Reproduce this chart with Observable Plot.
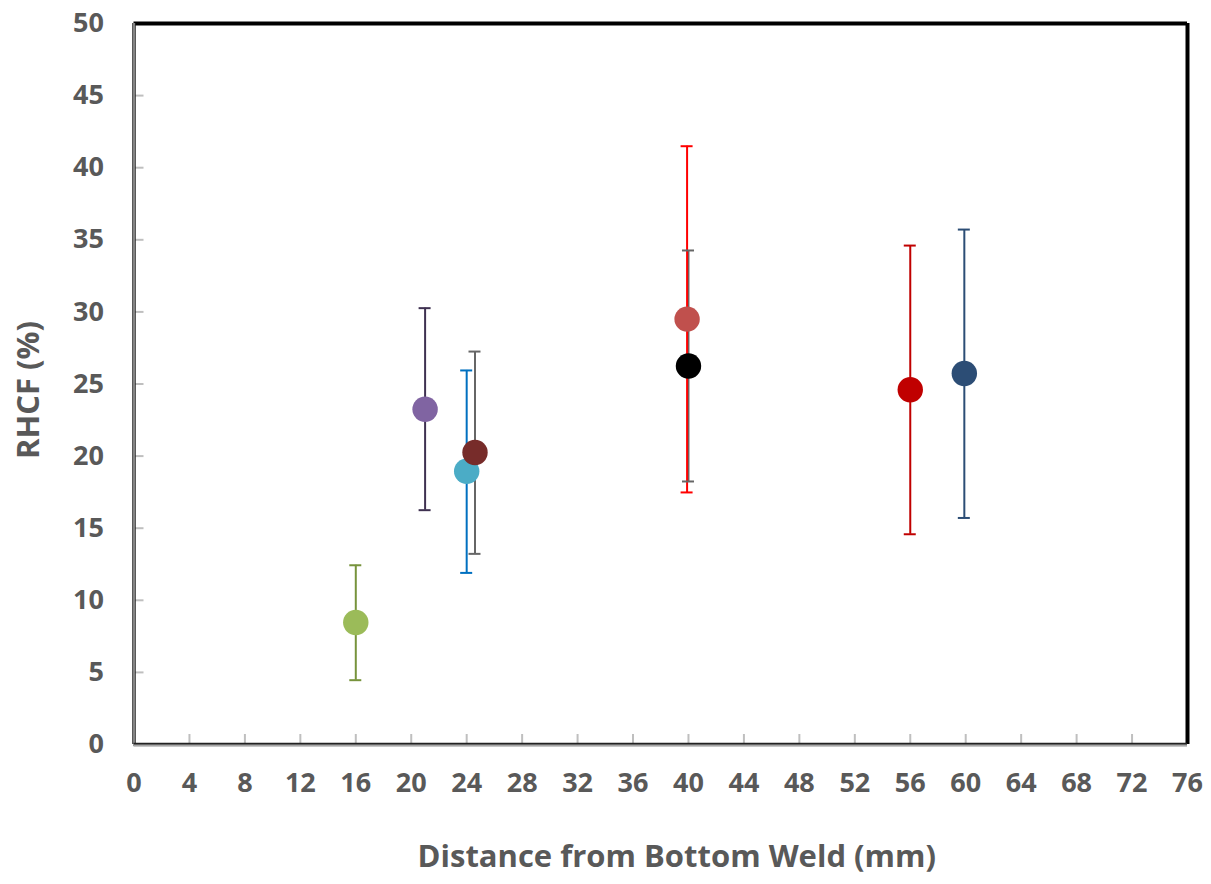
<!DOCTYPE html>
<html>
<head>
<meta charset="utf-8">
<script src="https://cdn.jsdelivr.net/npm/d3@7"></script>
<script src="https://cdn.jsdelivr.net/npm/@observablehq/plot@0.6"></script>
<style>
  html, body { margin: 0; padding: 0; background: #fff; }
</style>
</head>
<body>
<div id="chart"></div>
<script>
// Data
const names = ["A", "B", "C", "D", "E", "F", "G", "H"];
const xs = [16, 21, 24, 24.6, 39.9, 40, 56, 59.9];
const ys = [8.46, 23.25, 18.95, 20.25, 29.5, 26.25, 24.6, 25.73];
const lows = [4.46, 16.25, 11.9, 13.22, 17.48, 18.24, 14.58, 15.71];
const highs = [12.43, 30.26, 25.94, 27.25, 41.49, 34.26, 34.6, 35.71];
const pointColors = ["#9BBB59", "#8064A2", "#4BACC6", "#772C2A", "#C0504D", "#000000", "#C00000", "#2C4D75"];
const barColors = ["#77933C", "#3F3151", "#0070C0", "#666666", "#FF0000", "#666666", "#C00000", "#2C4D75"];
const xTicks = d3.range(0, 77, 4);
const yTicks = d3.range(0, 51, 5);
const xLabel = "Distance from Bottom Weld (mm)";
const yLabel = "RHCF (%)";

const data = names.map((n, i) => ({
  name: n, x: xs[i], y: ys[i], lo: lows[i], hi: highs[i],
  pc: pointColors[i], bc: barColors[i]
}));

// draw order: bar of E drawn after F bar so the red stays on top
const barOrder = [0, 1, 2, 3, 5, 4, 6, 7].map(i => data[i]);

const chart = Plot.plot({
  width: 1211,
  height: 884,
  marginLeft: 133.5,
  marginRight: 24,
  marginTop: 23,
  marginBottom: 140,
  style: { fontFamily: "'Open Sans', sans-serif", fontWeight: "bold", color: "#595959", background: "#fff" },
  x: { domain: [0, 76], ticks: xTicks },
  y: { domain: [0, 50], ticks: yTicks },
  marks: [
    // inward tick marks
    Plot.ruleX(xTicks.slice(1, -1), { x: d => d, y1: 0, y2: 0, insetTop: -10, stroke: "#BFBFBF", strokeWidth: 2 }),
    Plot.ruleY(yTicks.slice(1, -1), { y: d => d, x1: 0, x2: 0, insetRight: -10, stroke: "#BFBFBF", strokeWidth: 2 }),
    // frame: top and right black, left and bottom grey/black
    Plot.ruleY([50], { stroke: "#000", strokeWidth: 4 }),
    Plot.ruleX([76], { stroke: "#000", strokeWidth: 4 }),
    Plot.ruleX([0], { stroke: "#222", strokeWidth: 3.5 }),
    Plot.ruleX([0], { stroke: "#A6A6A6", strokeWidth: 1.5 }),
    Plot.ruleY([0], { stroke: "#222", strokeWidth: 3.5 }),
    Plot.ruleY([0], { stroke: "#A6A6A6", strokeWidth: 1.5, dy: 0.8 }),
    // axes labels
    Plot.axisX(xTicks, { tickSize: 0, tickPadding: 28, fontSize: 27, fontWeight: "bold", label: null }),
    Plot.axisY(yTicks, { tickSize: 0, tickPadding: 30, fontSize: 27, fontWeight: "bold", label: null }),
    Plot.text([xLabel], { frameAnchor: "bottom", textAnchor: "middle", dx: 16, dy: 122, fontSize: 31, fontWeight: "bold", fill: "#595959" }),
    Plot.text([yLabel], { frameAnchor: "left", textAnchor: "middle", rotate: -90, dx: -105, dy: 6, fontSize: 31, fontWeight: "bold", fill: "#595959" }),
    // error bars
    Plot.ruleX(barOrder, { x: "x", y1: "lo", y2: "hi", stroke: "bc", strokeWidth: 2 }),
    Plot.ruleY(barOrder, { y: "hi", x1: "x", x2: "x", insetLeft: -6, insetRight: -6, stroke: "bc", strokeWidth: 2 }),
    Plot.ruleY(barOrder, { y: "lo", x1: "x", x2: "x", insetLeft: -6, insetRight: -6, stroke: "bc", strokeWidth: 2 }),
    // points
    Plot.dot(data, { x: "x", y: "y", r: 12.7, fill: "pc", stroke: "none" })
  ]
});

document.getElementById("chart").appendChild(chart);
</script>
</body>
</html>
